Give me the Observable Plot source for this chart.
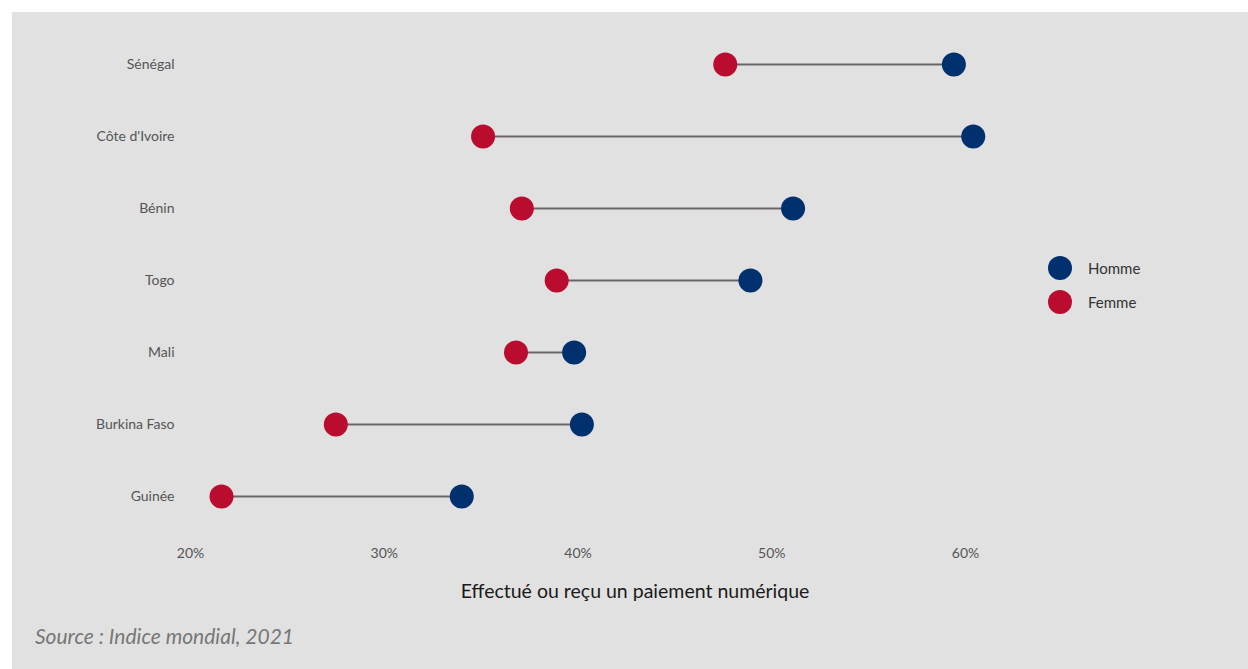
<!DOCTYPE html>
<html>
<head>
<meta charset="utf-8">
<script src="https://cdn.jsdelivr.net/npm/d3@7"></script>
<script src="https://cdn.jsdelivr.net/npm/@observablehq/plot@0.6"></script>
<style>
  html, body { margin: 0; padding: 0; background: #ffffff; }
  #wrap { position: absolute; left: 12px; top: 12px; width: 1236px; height: 657px; background: #e1e1e1; overflow: hidden; font-family: Lato, "Open Sans", sans-serif; }
  #chart { position: absolute; left: 0; top: 0; }
  #legend { position: absolute; left: 1036px; top: 239px; font-size: 15px; color: #333; }
  .item { display: flex; align-items: center; height: 34px; }
  .sw { width: 24px; height: 24px; border-radius: 50%; margin-right: 16px; }
  #source { position: absolute; left: 23px; top: 611px; font-size: 21px; font-style: italic; color: #777; }
</style>
</head>
<body>
<div id="wrap">
  <div id="chart"></div>
  <div id="legend"></div>
  <div id="source"></div>
</div>
<script>
const countries = ["Sénégal", "Côte d'Ivoire", "Bénin", "Togo", "Mali", "Burkina Faso", "Guinée"];
const homme = [59.4, 60.4, 51.1, 48.9, 39.8, 40.2, 34.0];
const femme = [47.6, 35.1, 37.1, 38.9, 36.8, 27.5, 21.6];
const xTicks = [20, 30, 40, 50, 60];
const seriesNames = ["Homme", "Femme"];
const seriesColors = ["#00306e", "#ba0c2f"];
const axisLabel = "Effectué ou reçu un paiement numérique";
const sourceText = "Source : Indice mondial, 2021";

const rows = countries.map((c, i) => ({country: c, homme: homme[i], femme: femme[i]}));
const long = [];
rows.forEach(r => {
  long.push({country: r.country, value: r.femme, sex: "Femme"});
  long.push({country: r.country, value: r.homme, sex: "Homme"});
});

const plot = Plot.plot({
  width: 1236,
  height: 620,
  marginLeft: 178,
  marginRight: 283,
  marginTop: 20,
  marginBottom: 90,
  style: {fontFamily: "Lato, 'Open Sans', sans-serif", fontSize: "14px", background: "transparent", color: "#555"},
  x: {domain: [20, 60], ticks: xTicks, tickFormat: d => d + "%"},
  y: {type: "point", domain: countries, range: [50, 486], padding: 0},
  color: {domain: seriesNames, range: seriesColors},
  marks: [
    Plot.axisX({ticks: xTicks, tickFormat: d => d + "%", tickSize: 0, tickPadding: 6, label: null, fill: "#555", fontSize: 14}),
    Plot.axisY({tickSize: 0, tickPadding: 16, label: null, fill: "#555", fontSize: 14}),
    Plot.link(rows, {x1: "femme", x2: "homme", y1: "country", y2: "country", stroke: "#6b6666", strokeWidth: 2}),
    Plot.dot(long, {x: "value", y: "country", fill: "sex", r: 12, stroke: "none"}),
    Plot.text([axisLabel], {text: d => d, frameAnchor: "bottom", dy: 55, dx: 57, fontSize: 19.5, fill: "#1a1a1a"})
  ]
});
document.getElementById("chart").appendChild(plot);

const legend = document.getElementById("legend");
seriesNames.forEach((n, i) => {
  const it = document.createElement("div");
  it.className = "item";
  const sw = document.createElement("div");
  sw.className = "sw";
  sw.style.background = seriesColors[i];
  const t = document.createElement("span");
  t.textContent = n;
  it.appendChild(sw); it.appendChild(t);
  legend.appendChild(it);
});
document.getElementById("source").textContent = sourceText;
</script>
</body>
</html>
